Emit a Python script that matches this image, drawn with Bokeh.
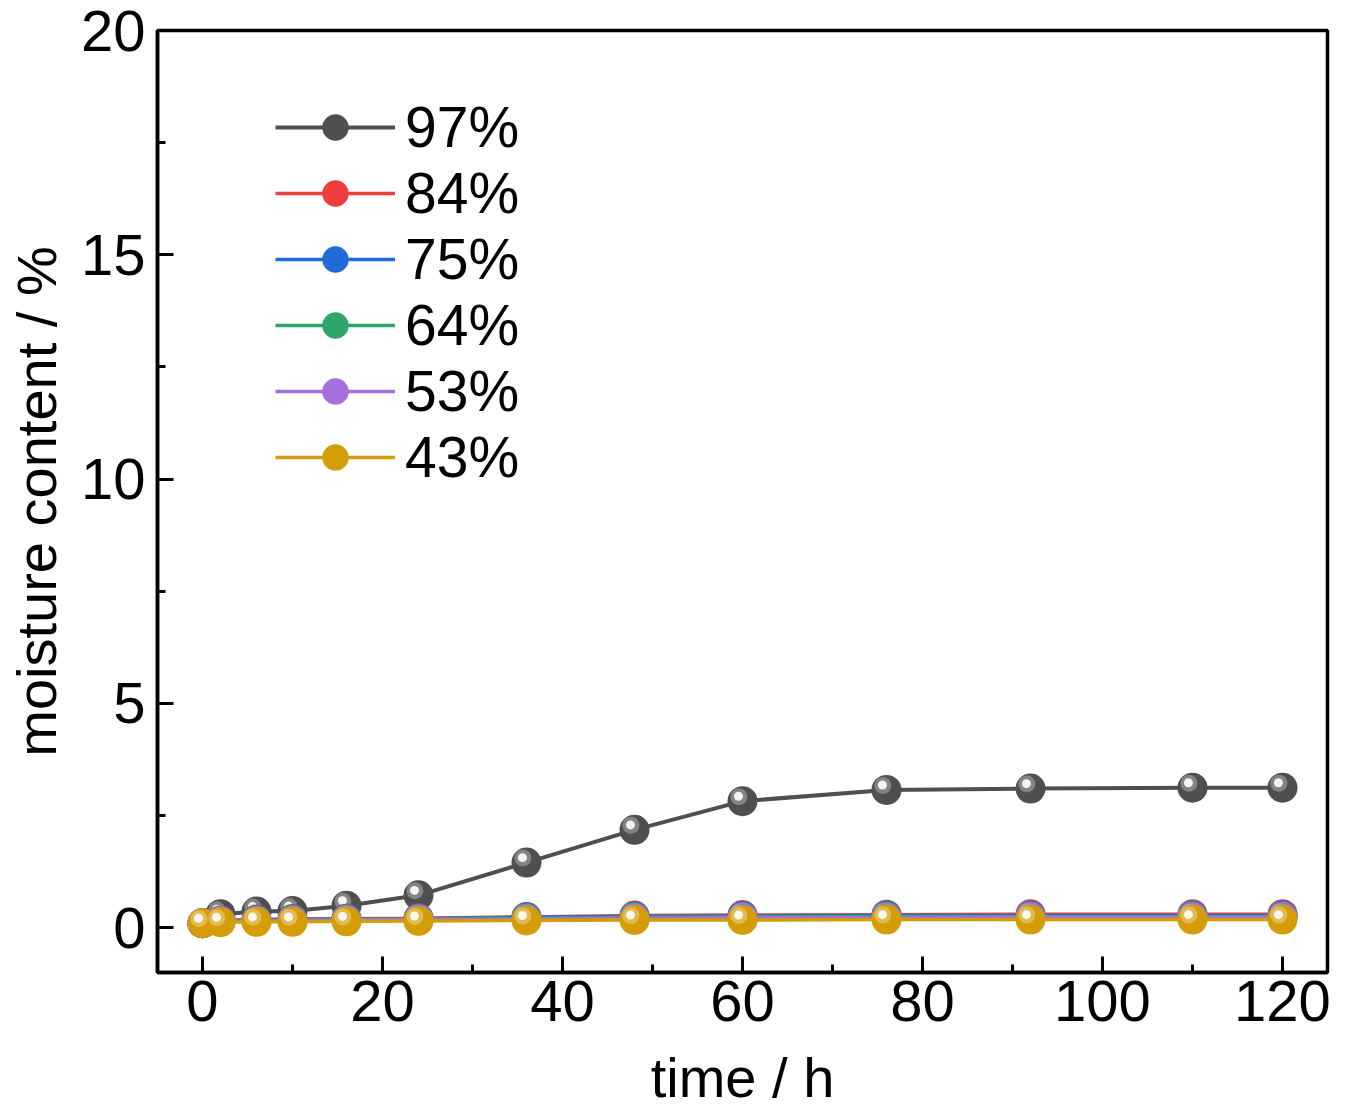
from bokeh.plotting import figure
from bokeh.models import FixedTicker, Legend, LegendItem, ColumnDataSource, Range1d
from bokeh.transform import dodge
from bokeh.embed import file_html
from bokeh.resources import INLINE

# sampling times (h)
time_h = [0, 2, 6, 10, 16, 24, 36, 48, 60, 76, 92, 110, 120]

# moisture content (%) for each relative humidity
mc_97 = [0.10, 0.30, 0.36, 0.37, 0.49, 0.72, 1.45, 2.18, 2.82, 3.07, 3.10, 3.12, 3.12]
mc_84 = [0.10, 0.16, 0.18, 0.19, 0.20, 0.21, 0.24, 0.27, 0.28, 0.29, 0.30, 0.30, 0.30]
mc_75 = [0.10, 0.15, 0.17, 0.18, 0.19, 0.20, 0.23, 0.25, 0.26, 0.27, 0.27, 0.27, 0.27]
mc_64 = [0.10, 0.15, 0.16, 0.17, 0.18, 0.19, 0.21, 0.23, 0.24, 0.25, 0.25, 0.25, 0.25]
mc_53 = [0.10, 0.14, 0.15, 0.16, 0.17, 0.18, 0.19, 0.21, 0.22, 0.22, 0.23, 0.23, 0.23]
mc_43 = [0.10, 0.12, 0.13, 0.13, 0.14, 0.15, 0.16, 0.17, 0.17, 0.18, 0.18, 0.18, 0.18]

labels = ["97%", "84%", "75%", "64%", "53%", "43%"]
series = [mc_97, mc_84, mc_75, mc_64, mc_53, mc_43]
colors = ["#4f4f4f", "#ef3d3d", "#1f6cd8", "#2fa56a", "#a66fde", "#d49d08"]

x_ticks = [0, 20, 40, 60, 80, 100, 120]
y_ticks = [0, 5, 10, 15, 20]

FONT = "Liberation Sans"

p = figure(width=1348, height=1112, output_backend="svg", toolbar_location=None,
           x_range=Range1d(-5, 125), y_range=Range1d(-1, 20),
           min_border_left=157, min_border_top=30, min_border_right=21, min_border_bottom=140)

p.xgrid.grid_line_color = None
p.ygrid.grid_line_color = None
p.outline_line_color = "black"
p.outline_line_width = 3.5

p.xaxis.ticker = FixedTicker(ticks=x_ticks, minor_ticks=[10, 30, 50, 70, 90, 110])
p.yaxis.ticker = FixedTicker(ticks=y_ticks, minor_ticks=[2.5, 7.5, 12.5, 17.5])
p.xaxis.axis_label = "time / h"
p.yaxis.axis_label = "moisture content / %"

for ax in [p.xaxis[0], p.yaxis[0]]:
    ax.axis_line_width = 3.5
    ax.major_tick_in = 16
    ax.major_tick_out = 0
    ax.minor_tick_in = 8
    ax.minor_tick_out = 0
    ax.major_tick_line_width = 3
    ax.minor_tick_line_width = 3
    ax.major_label_text_font = FONT
    ax.major_label_text_font_size = "58px"
    ax.major_label_text_color = "black"
    ax.axis_label_text_font = FONT
    ax.axis_label_text_font_size = "56px"
    ax.axis_label_text_font_style = "normal"
    ax.axis_label_text_color = "black"
p.xaxis.major_label_standoff = 8
p.yaxis.major_label_standoff = 12
p.xaxis.axis_label_standoff = 22
p.xaxis.axis_label_text_line_height = 0.6
p.yaxis.axis_label_standoff = 10

items = []
for lab, ys, col in zip(labels, series, colors):
    src = ColumnDataSource(data=dict(x=time_h, y=ys))
    lw = 4 if lab == "97%" else 3.5
    r_line = p.line('x', 'y', source=src, line_color=col, line_width=lw)
    r_dot = p.scatter('x', 'y', source=src, size=30, fill_color=col, line_color=None)
    # shine on the ball
    p.scatter(dodge('x', -0.4), dodge('y', 0.1), source=src, size=17,
              fill_color="white", fill_alpha=0.3, line_color=None)
    p.scatter(dodge('x', -0.45), dodge('y', 0.11), source=src, size=9,
              fill_color="white", fill_alpha=0.9, line_color=None)
    items.append(LegendItem(label=lab, renderers=[r_line, r_dot]))

legend = Legend(items=items, location=(118, 482))
legend.border_line_color = None
legend.background_fill_alpha = 0
legend.glyph_width = 120
legend.glyph_height = 66
legend.label_height = 66
legend.spacing = 0
legend.padding = 0
legend.margin = 0
legend.label_standoff = 10
legend.label_text_font = FONT
legend.label_text_font_size = "57px"
legend.label_text_color = "black"
p.add_layout(legend)

open("out.html", "w").write(file_html(p, INLINE))
